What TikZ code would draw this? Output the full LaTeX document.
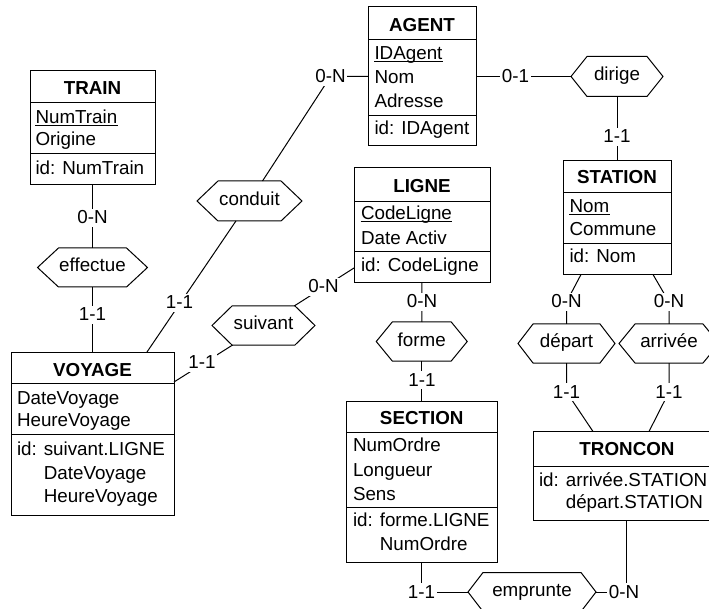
\documentclass[tikz,border=0pt]{standalone}
\usepackage{fontspec}
\setmainfont{Liberation Sans}
\begin{document}
\begin{tikzpicture}[x=1pt,y=-1pt, line width=1pt,
  every node/.style={font=\fontsize{18.8}{22}\selectfont},
  ebox/.style={draw, inner sep=0pt, outer sep=0pt},
  relnode/.style={inner sep=0pt, outer sep=0pt, text height=13pt, text depth=4pt, minimum height=39pt},
  etitle/.style={anchor=base, inner sep=0pt, font=\fontsize{18.8}{22}\selectfont\bfseries},
  eattr/.style={anchor=base west, inner sep=0pt},
  lbl/.style={fill=white, inner xsep=1.5pt, inner ysep=3pt, text height=12pt, text depth=0pt},
  uline/.style={line width=1pt}]
\useasboundingbox (0,0) rectangle (709,609);
\clip (0,0) rectangle (709,609);

% ---------------- entities ----------------
% TRAIN
\node[ebox, minimum width=125pt, minimum height=114pt] (train) at (92.5,128) {};
\draw (30,103) -- (155,103);
\draw (30,154) -- (155,154);
\node[etitle] (trainT) at (92.5,95) {TRAIN};
\node[eattr] (trainA1) at (35,123.3) {NumTrain};
\node[eattr] (trainA2) at (35,146) {Origine};
\node[eattr] (trainI1) at (35,174.3) {id: NumTrain};
\draw[uline] ([yshift=-1.8pt]trainA1.base west) -- ([yshift=-1.8pt]trainA1.base east);

% AGENT
\node[ebox, minimum width=108pt, minimum height=139pt] (agent) at (422,76.5) {};
\draw (368,40) -- (476,40);
\draw (368,116) -- (476,116);
\node[etitle] (agentT) at (422,31.7) {AGENT};
\node[eattr] (agentA1) at (374,59.3) {IDAgent};
\node[eattr] (agentA2) at (374,83.3) {Nom};
\node[eattr] (agentA3) at (374,107.7) {Adresse};
\node[eattr] (agentI1) at (374,135) {id: IDAgent};
\draw[uline] ([yshift=-1.8pt]agentA1.base west) -- ([yshift=-1.8pt]agentA1.base east);

% LIGNE
\node[ebox, minimum width=136pt, minimum height=115pt] (ligne) at (422,225.5) {};
\draw (354,202) -- (490,202);
\draw (354,252) -- (490,252);
\node[etitle] (ligneT) at (422,192.7) {LIGNE};
\node[eattr] (ligneA1) at (360.5,220) {CodeLigne};
\node[eattr] (ligneA2) at (360.5,244.3) {Date Activ};
\node[eattr] (ligneI1) at (360.5,271.7) {id: CodeLigne};
\draw[uline] ([yshift=-1.8pt]ligneA1.base west) -- ([yshift=-1.8pt]ligneA1.base east);

% STATION
\node[ebox, minimum width=108pt, minimum height=113.5pt] (station) at (617,217.75) {};
\draw (563,192.3) -- (671,192.3);
\draw (563,243.3) -- (671,243.3);
\node[etitle] (stationT) at (617,184) {STATION};
\node[eattr] (stationA1) at (569,213) {Nom};
\node[eattr] (stationA2) at (569,236) {Commune};
\node[eattr] (stationI1) at (569,262.7) {id: Nom};
\draw[uline] ([yshift=-1.8pt]stationA1.base west) -- ([yshift=-1.8pt]stationA1.base east);

% VOYAGE
\node[ebox, minimum width=163pt, minimum height=163pt] (voyage) at (92.5,433.5) {};
\draw (11,383.5) -- (174,383.5);
\draw (11,434.5) -- (174,434.5);
\node[etitle] (voyageT) at (92.5,376) {VOYAGE};
\node[eattr] (voyageA1) at (16.5,404) {DateVoyage};
\node[eattr] (voyageA2) at (16.5,426.7) {HeureVoyage};
\node[eattr] (voyageI1) at (16.5,455.7) {id: suivant.LIGNE};
\node[eattr] (voyageI2) at (16.5,479.3) {\phantom{id: }DateVoyage};
\node[eattr] (voyageI3) at (16.5,502.3) {\phantom{id: }HeureVoyage};

% SECTION
\node[ebox, minimum width=151.5pt, minimum height=161.5pt] (section) at (421.75,481.75) {};
\draw (346,432) -- (497.5,432);
\draw (346,507) -- (497.5,507);
\node[etitle] (sectionT) at (421.75,424.3) {SECTION};
\node[eattr] (sectionA1) at (352.5,451.7) {NumOrdre};
\node[eattr] (sectionA2) at (352.5,476) {Longueur};
\node[eattr] (sectionA3) at (352.5,500) {Sens};
\node[eattr] (sectionI1) at (352.5,526.7) {id: forme.LIGNE};
\node[eattr] (sectionI2) at (352.5,550) {\phantom{id: }NumOrdre};

% TRONCON
\node[ebox, minimum width=187pt, minimum height=89pt] (troncon) at (626.5,476) {};
\draw (533,466) -- (720,466);
\node[etitle] (tronconT) at (627,455.7) {TRONCON};
\node[eattr] (tronconI1) at (538.5,486) {id: arrivée.STATION};
\node[eattr] (tronconI2) at (538.5,508.3) {\phantom{id: }départ.STATION};

% ---------------- relationships ----------------
\node[relnode, minimum width=110pt] (effectue) at (92.5,267.5) {effectue};
\node[relnode, minimum width=105pt, minimum height=40pt] (conduit) at (249.5,201) {conduit};
\node[relnode, minimum width=92pt, minimum height=40pt] (dirige) at (617,76.5) {dirige};
\node[relnode, minimum width=103pt] (suivant) at (263.5,325.5) {suivant};
\node[relnode, minimum width=91pt] (forme) at (421.75,341.5) {forme};
\node[relnode, minimum width=97pt] (depart) at (566.5,343.5) {départ};
\node[relnode, minimum width=100pt] (arrivee) at (669,343.5) {arrivée};
\node[relnode, minimum width=128pt] (emprunte) at (532,592) {emprunte};

\foreach \n/\i in {effectue/21,conduit/21,dirige/16,suivant/20,forme/16,depart/15,arrivee/16,emprunte/15}
  \draw (\n.west) -- ([xshift=\i pt]\n.north west) -- ([xshift=-\i pt]\n.north east)
        -- (\n.east) -- ([xshift=-\i pt]\n.south east) -- ([xshift=\i pt]\n.south west) -- cycle;

% ---------------- connectors ----------------
\coordinate (vc) at (147,352);
\coordinate (ac) at (330.5,76.5);
\coordinate (vs) at (174,382);
\coordinate (ls) at (354,268);
\coordinate (sd) at (581,274.5);
\coordinate (kd) at (566.5,302);
\coordinate (sa) at (653,274.5);
\coordinate (ka) at (669,302);
\coordinate (kd2) at (566.5,392);
\coordinate (td) at (593,431.5);
\coordinate (ka2) at (669,392);
\coordinate (ta) at (649,431.5);
\coordinate (ke) at (421.75,592);
\coordinate (kt) at (626.5,592);

\draw (train) -- (effectue);
\draw (effectue) -- (voyage);
\draw (vc) -- (conduit) -- (ac) -- (agent);
\draw (vs) -- (suivant) -- (ls);
\draw (agent) -- (dirige);
\draw (dirige) -- (station);
\draw (ligne) -- (forme);
\draw (forme) -- (section);
\draw (sd) -- (kd) -- (depart);
\draw (sa) -- (ka) -- (arrivee);
\draw (depart) -- (kd2) -- (td);
\draw (arrivee) -- (ka2) -- (ta);
\draw (section) -- (ke) -- (emprunte);
\draw (troncon) -- (kt) -- (emprunte);

% ---------------- cardinality labels ----------------
\node[lbl] (c1) at (92.5,218) {0-N};
\node[lbl] (c2) at (92.5,315) {1-1};
\node[lbl] (c3) at (179.5,303) {1-1};
\node[lbl] (c4) at (330.5,77) {0-N};
\node[lbl] (c5) at (202,362.5) {1-1};
\node[lbl] (c6) at (323.5,287) {0-N};
\node[lbl] (c7) at (515.5,77) {0-1};
\node[lbl] (c8) at (617,137) {1-1};
\node[lbl] (c9) at (422,302) {0-N};
\node[lbl] (c10) at (422,380) {1-1};
\node[lbl] (c11) at (566.5,302) {0-N};
\node[lbl] (c12) at (669,302) {0-N};
\node[lbl] (c13) at (566.5,392) {1-1};
\node[lbl] (c14) at (669,392) {1-1};
\node[lbl] (c15) at (421.5,592) {1-1};
\node[lbl] (c16) at (624,592) {0-N};
\end{tikzpicture}
\end{document}
